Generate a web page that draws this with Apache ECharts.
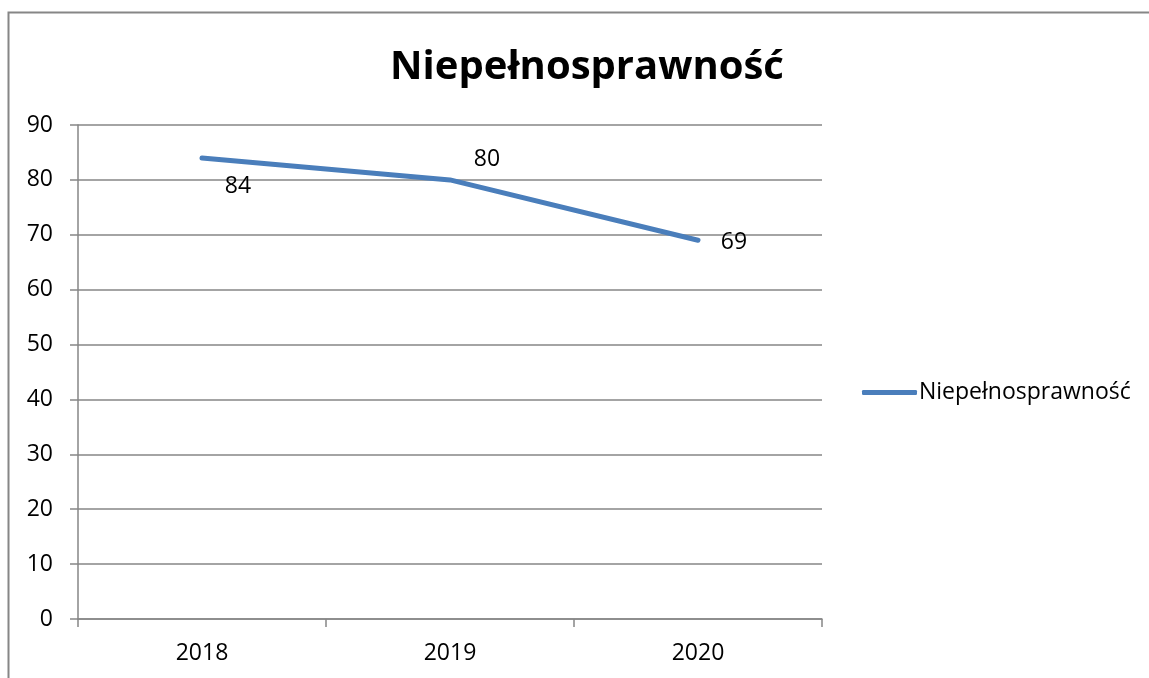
<!DOCTYPE html>
<html><head><meta charset="utf-8">
<script src="https://cdn.jsdelivr.net/npm/echarts@6/dist/echarts.min.js"></script>
<style>html,body{margin:0;padding:0;background:#fff}#c{width:1149px;height:678px}</style>
</head><body><div id="c"></div>
<script>
const categories = ['2018', '2019', '2020'];
const seriesName = 'Niepełnosprawność';
const values = [84, 80, 69];

const labelOffsets = [[36, 29], [37, -20], [36, 2]];

const chart = echarts.init(document.getElementById('c'));
const font = 'Open Sans';
chart.setOption({
  animation: false,
  textStyle: { fontFamily: font },
  title: {
    text: 'Niepełnosprawność',
    left: 582, top: 43, textAlign: 'center',
    textStyle: { fontSize: 40, fontWeight: 'bold', color: '#000', fontFamily: font }
  },
  graphic: [{
    type: 'rect', shape: { x: 8.5, y: 12.5, width: 1150, height: 700 },
    style: { fill: 'none', stroke: '#868686', lineWidth: 2 }, silent: true
  }],
  legend: {
    left: 857, top: 376, itemWidth: 55, itemHeight: 5, itemGap: 4,
    icon: 'roundRect',
    itemStyle: { color: '#4a7ebb', opacity: 1 },
    textStyle: { fontSize: 23, color: '#000', fontFamily: font, padding: [0,0,0,-3] },
    data: [seriesName]
  },
  grid: { left: 78, right: 327, top: 125, bottom: 59 },
  xAxis: {
    type: 'category', data: categories, boundaryGap: true,
    axisLine: { lineStyle: { color: '#868686', width: 1.5 } },
    axisTick: { show: true, length: 8, lineStyle: { color: '#868686', width: 1.5 } },
    axisLabel: { fontSize: 23, color: '#000', margin: 23, fontFamily: font }
  },
  yAxis: {
    type: 'value', min: 0, max: 90, interval: 10,
    axisLine: { show: true, lineStyle: { color: '#868686', width: 1.5 } },
    axisTick: { show: true, length: 8, lineStyle: { color: '#868686', width: 1.5 } },
    splitLine: { lineStyle: { color: '#868686', width: 1.5 } },
    axisLabel: { fontSize: 23, color: '#000', margin: 25, fontFamily: font }
  },
  series: [{
    name: seriesName, type: 'line',
    data: values.map((v, i) => ({
      value: v,
      label: { offset: labelOffsets[i] }
    })),
    symbol: 'circle', symbolSize: 2, showSymbol: true,
    lineStyle: { color: '#4a7ebb', width: 5, cap: 'round' },
    itemStyle: { color: '#4a7ebb' },
    label: {
      show: true, position: 'inside', align: 'center', verticalAlign: 'middle',
      fontSize: 23, color: '#000', fontFamily: font
    }
  }]
});
</script></body></html>
